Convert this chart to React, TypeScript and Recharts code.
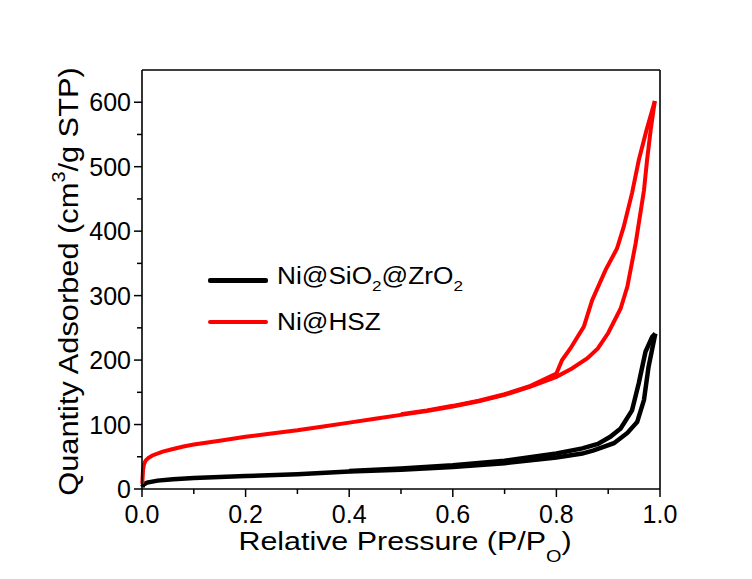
import React from "react";
import { LineChart, Line, XAxis, YAxis, Legend, ReferenceLine } from "recharts";

// Ni@HSZ (red) adsorption / desorption branches
const RED_ADS_P = [0.0005, 0.002, 0.004, 0.007, 0.012, 0.02, 0.04, 0.06, 0.08, 0.1, 0.15, 0.2, 0.25, 0.3, 0.35, 0.4, 0.45, 0.5, 0.55, 0.6, 0.65, 0.7, 0.75, 0.8, 0.83, 0.86, 0.88, 0.9, 0.924, 0.937, 0.953, 0.969, 0.975, 0.982, 0.99];
const RED_ADS_V = [8, 30, 39, 44, 48, 52, 58, 62, 66, 69, 75, 81, 86, 91, 97, 103, 109, 115, 121, 128, 136, 146, 159, 174, 187, 203, 218, 242, 280, 314, 381, 463, 510, 557, 602];
const RED_DES_P = [0.99, 0.974, 0.959, 0.946, 0.93, 0.917, 0.895, 0.869, 0.853, 0.827, 0.811, 0.8, 0.75, 0.7, 0.65, 0.6, 0.55, 0.5];
const RED_DES_V = [602, 557, 510, 459, 407, 373, 340, 293, 252, 218, 200, 179, 160, 147, 137, 129, 122, 116];

// Ni@SiO2@ZrO2 (black)
const BLK_ADS_P = [0.0005, 0.003, 0.01, 0.03, 0.06, 0.1, 0.2, 0.3, 0.4, 0.5, 0.6, 0.7, 0.8, 0.85, 0.872, 0.911, 0.937, 0.956, 0.969, 0.978, 0.991];
const BLK_ADS_V = [3, 7, 10, 13, 15, 17, 20, 23, 27, 30, 34, 40, 49, 55, 60, 71, 87, 104, 138, 190, 241];
const BLK_DES_P = [0.991, 0.985, 0.972, 0.959, 0.946, 0.924, 0.904, 0.88, 0.85, 0.8, 0.7, 0.6, 0.5, 0.4];
const BLK_DES_V = [241, 236, 213, 164, 122, 94, 81, 70, 63, 55, 44, 37, 32, 28];

const X_TICKS = [0, 0.1, 0.2, 0.3, 0.4, 0.5, 0.6, 0.7, 0.8, 0.9, 1.0];
const Y_TICKS = [0, 50, 100, 150, 200, 250, 300, 350, 400, 450, 500, 550, 600];

const LEGEND_ITEMS = [
  { label: "Ni@SiO2@ZrO2", color: "#000000", width: 5 },
  { label: "Ni@HSZ", color: "#FF0000", width: 4 },
];

const FONT = "'Liberation Sans', Arial, sans-serif";
const AXIS = { stroke: "#000", strokeWidth: 1.6 };

const toPts = (p: number[], v: number[]) => p.map((x, i) => ({ p: x, v: v[i] }));

function XTick(props: any) {
  const { x, y, payload } = props;
  const major = Math.round(payload.value * 10) % 2 === 0;
  return (
    <g>
      <line x1={x} x2={x} y1={y} y2={y + (major ? 8 : 5)} stroke="#000" strokeWidth={1.5} />
      {major && (
        <text x={x} y={y + 34} textAnchor="middle" fontSize={25} fontFamily={FONT} fill="#000">
          {payload.value.toFixed(1)}
        </text>
      )}
    </g>
  );
}

function YTick(props: any) {
  const { x, y, payload } = props;
  const major = payload.value % 100 === 0;
  return (
    <g>
      <line x1={x} x2={x - (major ? 8 : 5)} y1={y} y2={y} stroke="#000" strokeWidth={1.5} />
      {major && (
        <text x={x - 11} y={y + 9} textAnchor="end" fontSize={25} fontFamily={FONT} fill="#000">
          {payload.value}
        </text>
      )}
    </g>
  );
}

function XTitle({ viewBox }: any) {
  const cx = viewBox.x + viewBox.width / 2 + 4;
  return (
    <text transform={`translate(${cx},${viewBox.y + 61}) scale(1.17,1)`} textAnchor="middle" fontSize={26} fontFamily={FONT} fill="#000">
      Relative Pressure (P/P
      <tspan fontSize={17} dy={12}>O</tspan>
      <tspan dy={-12}>)</tspan>
    </text>
  );
}

function YTitle({ viewBox }: any) {
  const cy = viewBox.y + viewBox.height / 2 + 2;
  return (
    <text transform={`translate(78,${cy}) rotate(-90) scale(1.1,1)`} textAnchor="middle" fontSize={28} fontFamily={FONT} fill="#000">
      Quantity Adsorbed (cm
      <tspan fontSize={18} dy={-13}>3</tspan>
      <tspan dy={13}>/g STP)</tspan>
    </text>
  );
}

function withSubs(s: string) {
  return s.split(/(\d)/).filter(Boolean).map((part, i) =>
    /\d/.test(part) ? (
      <span key={i} style={{ fontSize: 15, verticalAlign: -7 }}>{part}</span>
    ) : (
      <span key={i}>{part}</span>
    )
  );
}

function LegendBox() {
  return (
    <div style={{ fontFamily: FONT }}>
      {LEGEND_ITEMS.map((it) => (
        <div key={it.label} style={{ display: "flex", alignItems: "center", height: 41 }}>
          <div style={{ width: 60, height: it.width, background: it.color, borderRadius: 2 }} />
          <div style={{ marginLeft: 9, fontSize: 23, transform: "scaleX(1.14)", transformOrigin: "left center", whiteSpace: "nowrap", color: "#000", lineHeight: "26px" }}>
            {withSubs(it.label)}
          </div>
        </div>
      ))}
    </div>
  );
}

export default function App() {
  return (
    <div style={{ position: "absolute", left: 0, top: 0, width: 752, height: 579, background: "#fff" }}>
      <LineChart width={752} height={579} margin={{ top: 70, right: 92, left: 42, bottom: 10 }}>
        <XAxis
          dataKey="p" type="number" domain={[0, 1]} ticks={X_TICKS} interval={0}
          tickSize={0} tickMargin={0} tickLine={false} tick={<XTick />} height={80}
          axisLine={AXIS} label={<XTitle />}
        />
        <YAxis
          dataKey="v" type="number" domain={[0, 650]} ticks={Y_TICKS} interval={0}
          tickSize={0} tickMargin={0} tickLine={false} tick={<YTick />} width={100}
          axisLine={AXIS} label={<YTitle />}
        />
        <ReferenceLine y={650} stroke="#000" strokeWidth={1.6} ifOverflow="visible" />
        <ReferenceLine x={1} stroke="#000" strokeWidth={1.6} ifOverflow="visible" />
        <Legend layout="vertical" align="center" verticalAlign="middle" content={<LegendBox />}
          wrapperStyle={{ left: 208, top: 260, width: 300 }} />
        <Line data={toPts(BLK_ADS_P, BLK_ADS_V)} dataKey="v" type="linear" stroke="#000" strokeWidth={4.5} dot={false} isAnimationActive={false} />
        <Line data={toPts(BLK_DES_P, BLK_DES_V)} dataKey="v" type="linear" stroke="#000" strokeWidth={4.5} dot={false} isAnimationActive={false} />
        <Line data={toPts(RED_ADS_P, RED_ADS_V)} dataKey="v" type="linear" stroke="#FF0000" strokeWidth={4} dot={false} isAnimationActive={false} />
        <Line data={toPts(RED_DES_P, RED_DES_V)} dataKey="v" type="linear" stroke="#FF0000" strokeWidth={4} dot={false} isAnimationActive={false} />
      </LineChart>
    </div>
  );
}
